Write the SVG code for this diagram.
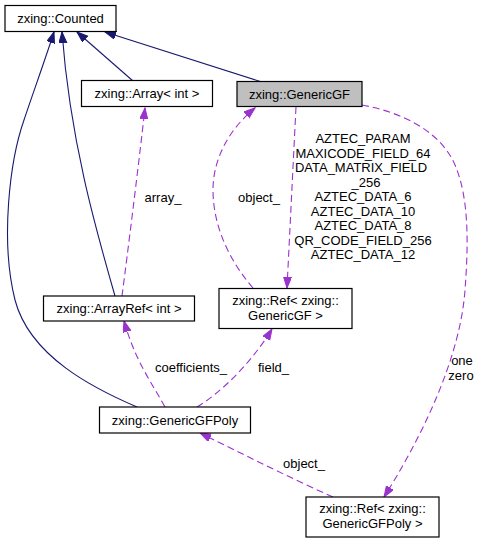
<svg xmlns="http://www.w3.org/2000/svg" width="479" height="543" viewBox="0 0 479 543">
<style>
.node rect{fill:#fff;stroke:#000;stroke-width:1.2}
.node.hl rect{fill:#bfbfbf}
text{font-family:"Liberation Sans",Arial,sans-serif;font-size:13px;fill:#000}
.nt{text-anchor:middle}
.inh{fill:none;stroke:#191970;stroke-width:1.1}
.use{fill:none;stroke:#9a32cd;stroke-width:1.1;stroke-dasharray:7,4}
.el{text-anchor:middle}
</style>
<defs>
<marker id="ab" markerUnits="userSpaceOnUse" markerWidth="12" markerHeight="9" refX="11" refY="4" orient="auto"><path d="M0,0 L11,4 L0,8 z" fill="#191970" stroke="#191970"/></marker>
<marker id="ap" markerUnits="userSpaceOnUse" markerWidth="12" markerHeight="9" refX="11" refY="4" orient="auto"><path d="M0,0 L11,4 L0,8 z" fill="#9a32cd" stroke="#9a32cd"/></marker>
</defs>
<rect width="479" height="543" fill="#fff"/>
<g id="edges">
<path class="inh" marker-end="url(#ab)" d="M133,81 L77,32"/>
<path class="inh" marker-end="url(#ab)" d="M262,82 L105,32"/>
<path class="inh" marker-end="url(#ab)" d="M115,296 C96,230 70,140 62,32"/>
<path class="inh" marker-end="url(#ab)" d="M137,407 C95,389 30,357 15,300 C0,240 10,160 24,120 C33,93 45,60 54,32"/>
<path class="use" marker-end="url(#ap)" d="M122,296 C128,250 138,170 145,108"/>
<path class="use" marker-end="url(#ap)" d="M253,288 C233,265 213,230 213,190 C213,160 228,130 255,108"/>
<path class="use" marker-end="url(#ap)" d="M296,107 L287,288"/>
<path class="use" marker-end="url(#ap)" d="M362,105 C400,112 440,130 455,165 C470,200 468,250 465,290 C460,360 420,440 384,497"/>
<path class="use" marker-end="url(#ap)" d="M165,407 C150,380 135,360 124,321"/>
<path class="use" marker-end="url(#ap)" d="M197,407 C220,393 250,365 272,329"/>
<path class="use" marker-end="url(#ap)" d="M333,497 C290,478 245,455 200,433"/>
<text class="el" x="163" y="202">array_</text>
<text class="el" x="259" y="202">object_</text>
<text class="el" x="363" y="143">AZTEC_PARAM</text>
<text class="el" x="363" y="157.5">MAXICODE_FIELD_64</text>
<text class="el" x="361" y="172">DATA_MATRIX_FIELD</text>
<text class="el" x="366" y="186.5">_256</text>
<text class="el" x="363" y="201">AZTEC_DATA_6</text>
<text class="el" x="363" y="215.5">AZTEC_DATA_10</text>
<text class="el" x="363" y="230">AZTEC_DATA_8</text>
<text class="el" x="363" y="244.5">QR_CODE_FIELD_256</text>
<text class="el" x="363" y="259">AZTEC_DATA_12</text>
<text class="el" x="462" y="364.5">one</text>
<text class="el" x="461" y="379.5">zero</text>
<text class="el" x="191" y="371.5">coefficients_</text>
<text class="el" x="273.5" y="371.5">field_</text>
<text class="el" x="304" y="467.5">object_</text>
</g>
<g id="Counted" class="node"><rect x="5" y="5.5" width="111" height="26"/><text class="nt" x="60.5" y="23">zxing::Counted</text></g>
<g id="Array" class="node"><rect x="81.5" y="80.5" width="131" height="26"/><text class="nt" x="147" y="98">zxing::Array&lt; int &gt;</text></g>
<g id="GenericGF" class="node hl"><rect x="237" y="81.5" width="125" height="25"/><text class="nt" x="299.5" y="98.5">zxing::GenericGF</text></g>
<g id="ArrayRef" class="node"><rect x="43.5" y="296" width="151" height="25"/><text class="nt" x="119" y="313">zxing::ArrayRef&lt; int &gt;</text></g>
<g id="RefGenericGF" class="node"><rect x="219" y="288.5" width="133" height="40"/><text class="nt" x="285.5" y="305">zxing::Ref&lt; zxing::</text><text class="nt" x="285.5" y="319.5">GenericGF &gt;</text></g>
<g id="GenericGFPoly" class="node"><rect x="99.5" y="407" width="151" height="26"/><text class="nt" x="175" y="424.5">zxing::GenericGFPoly</text></g>
<g id="RefGenericGFPoly" class="node"><rect x="306" y="497" width="133" height="40"/><text class="nt" x="372.5" y="513">zxing::Ref&lt; zxing::</text><text class="nt" x="372.5" y="527.5">GenericGFPoly &gt;</text></g>
</svg>
